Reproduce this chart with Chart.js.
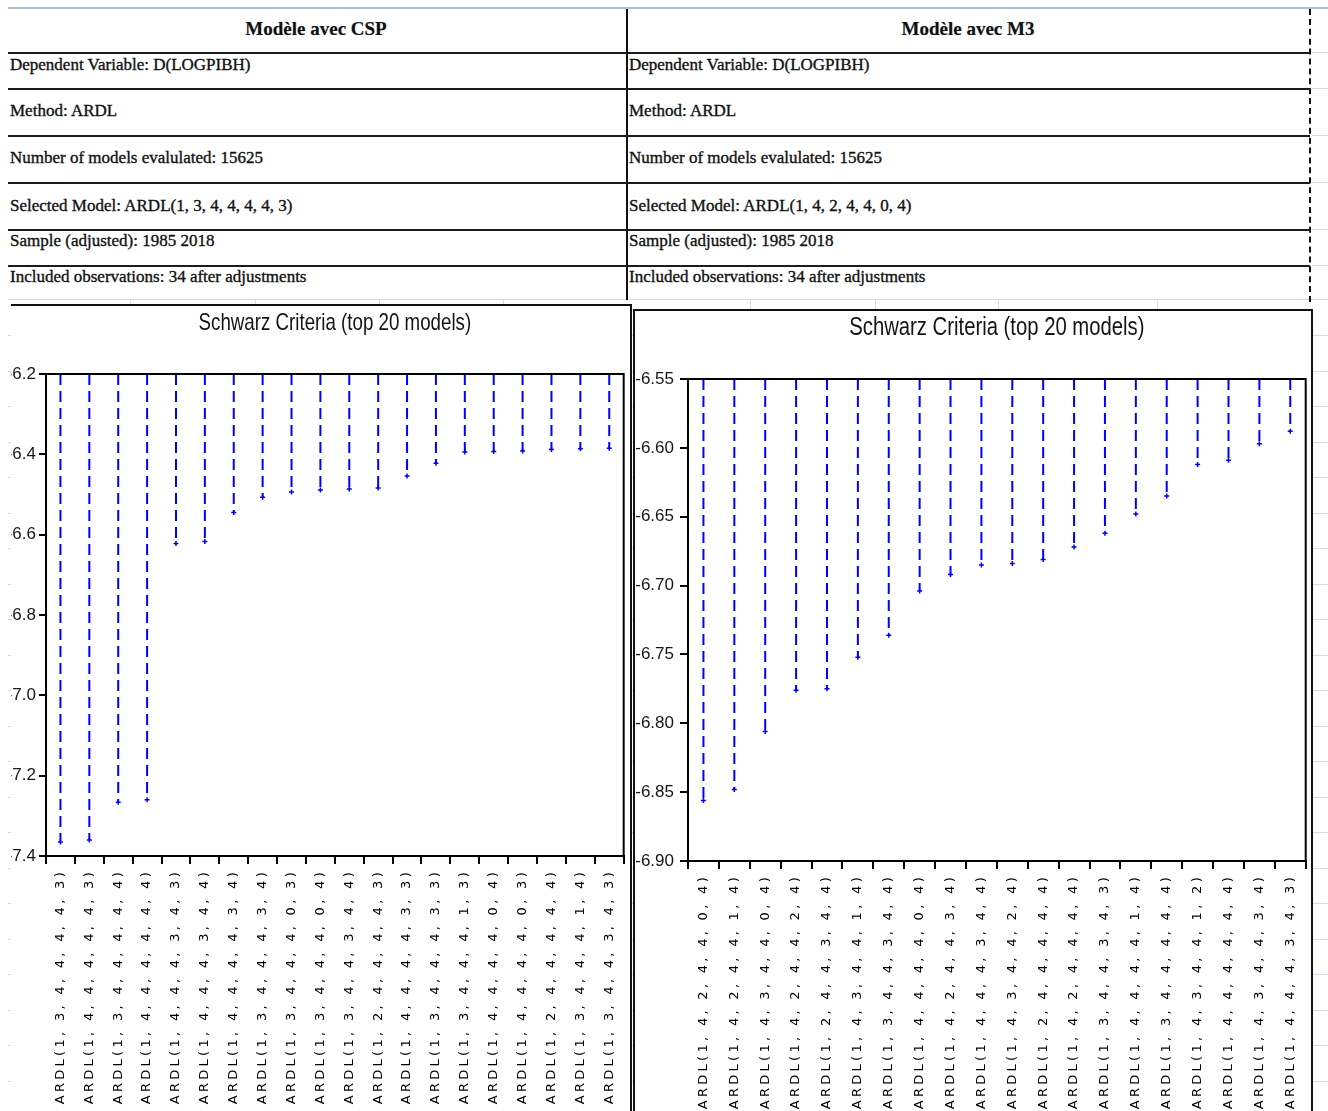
<!DOCTYPE html>
<html>
<head>
<meta charset="utf-8">
<script src="https://cdn.jsdelivr.net/npm/chart.js@4/dist/chart.umd.min.js"></script>
<style>
  html, body { margin: 0; padding: 0; background: #fff; width: 1328px; height: 1111px; overflow: hidden; }
  body { position: relative; }
  .grid-h { position: absolute; height: 1px; background: #d6dbe4; }
  .grid-v { position: absolute; width: 1px; background: #d6dbe4; }
  .rule { position: absolute; left: 8px; width: 1302px; height: 2px; background: #1c1c1c; }
  .cell { position: absolute; font-family: 'Liberation Serif', 'DejaVu Serif', serif; font-size: 17px;
          line-height: 18px; color: #111; white-space: nowrap; -webkit-text-stroke: 0.35px #111; }
  .head { font-weight: bold; font-size: 19px; line-height: 20px; transform: translateX(-50%); -webkit-text-stroke: 0.2px #111; }
  .frame { position: absolute; box-sizing: border-box; overflow: hidden; background: #fff; }
  canvas { position: absolute; }
</style>
</head>
<body>
<div id="sheet"></div>

<!-- regression summary table -->
<div class="grid-h" style="left:8px;top:7px;width:1320px;height:2px;background:#aebbd0"></div>
<div style="position:absolute;left:626px;top:9px;width:2px;height:291px;background:#111"></div>
<div style="position:absolute;left:1309px;top:9px;width:0;height:293px;border-left:2px dashed #111"></div>
<div class="rule" style="top:52px"></div>
<div class="rule" style="top:88px"></div>
<div class="rule" style="top:135px"></div>
<div class="rule" style="top:182px"></div>
<div class="rule" style="top:229px"></div>
<div class="rule" style="top:265px"></div>

<div class="cell head" style="left:316px;top:19px">Modèle avec CSP</div>
<div class="cell head" style="left:968px;top:19px">Modèle avec M3</div>

<div class="cell" style="left:10px;top:56px">Dependent Variable: D(LOGPIBH)</div>
<div class="cell" style="left:10px;top:102px">Method: ARDL</div>
<div class="cell" style="left:10px;top:149px">Number of models evalulated: 15625</div>
<div class="cell" style="left:10px;top:197px">Selected Model: ARDL(1, 3, 4, 4, 4, 4, 3)</div>
<div class="cell" style="left:10px;top:232px">Sample (adjusted): 1985 2018</div>
<div class="cell" style="left:10px;top:268px">Included observations: 34 after adjustments</div>

<div class="cell" style="left:629px;top:56px">Dependent Variable: D(LOGPIBH)</div>
<div class="cell" style="left:629px;top:102px">Method: ARDL</div>
<div class="cell" style="left:629px;top:149px">Number of models evalulated: 15625</div>
<div class="cell" style="left:629px;top:197px">Selected Model: ARDL(1, 4, 2, 4, 4, 0, 4)</div>
<div class="cell" style="left:629px;top:232px">Sample (adjusted): 1985 2018</div>
<div class="cell" style="left:629px;top:268px">Included observations: 34 after adjustments</div>

<!-- Schwarz criteria graphs -->
<div class="frame" style="left:11px;top:304px;width:621px;height:900px;border-top:2px solid #111;border-right:2px solid #111;">
  <canvas id="cspChart" width="642" height="810" style="left:-23px;top:0"></canvas>
</div>
<div class="frame" style="left:633px;top:309px;width:680px;height:900px;border:2px solid #111;">
  <canvas id="m3Chart" width="676" height="810" style="left:0;top:0"></canvas>
</div>

<script>
// ---- data ---------------------------------------------------------------
const chartTitle = 'Schwarz Criteria (top 20 models)';

const cspModels = [
  'ARDL(1, 3, 4, 4, 4, 4, 3)', 'ARDL(1, 4, 4, 4, 4, 4, 3)', 'ARDL(1, 3, 4, 4, 4, 4, 4)', 'ARDL(1, 4, 4, 4, 4, 4, 4)',
  'ARDL(1, 4, 4, 4, 3, 4, 3)', 'ARDL(1, 4, 4, 4, 3, 4, 4)', 'ARDL(1, 4, 4, 4, 4, 3, 4)', 'ARDL(1, 3, 4, 4, 4, 3, 4)',
  'ARDL(1, 3, 4, 4, 4, 0, 3)', 'ARDL(1, 3, 4, 4, 4, 0, 4)', 'ARDL(1, 3, 4, 4, 3, 4, 4)', 'ARDL(1, 2, 4, 4, 4, 4, 3)',
  'ARDL(1, 4, 4, 4, 4, 3, 3)', 'ARDL(1, 3, 4, 4, 4, 3, 3)', 'ARDL(1, 3, 4, 4, 4, 1, 3)', 'ARDL(1, 4, 4, 4, 4, 0, 4)',
  'ARDL(1, 4, 4, 4, 4, 0, 3)', 'ARDL(1, 2, 4, 4, 4, 4, 4)', 'ARDL(1, 3, 4, 4, 4, 1, 4)', 'ARDL(1, 3, 4, 4, 3, 4, 3)'
];
const cspSchwarz = [
  -7.365, -7.360, -7.266, -7.260, -6.622, -6.617, -6.545, -6.507, -6.494, -6.489,
  -6.486, -6.484, -6.454, -6.422, -6.394, -6.393, -6.392, -6.388, -6.386, -6.385
];
const cspAxisTicks = [-6.2, -6.4, -6.6, -6.8, -7.0, -7.2, -7.4];

const m3Models = [
  'ARDL(1, 4, 2, 4, 4, 0, 4)', 'ARDL(1, 4, 2, 4, 4, 1, 4)', 'ARDL(1, 4, 3, 4, 4, 0, 4)', 'ARDL(1, 4, 2, 4, 4, 2, 4)',
  'ARDL(1, 2, 4, 4, 3, 4, 4)', 'ARDL(1, 4, 3, 4, 4, 1, 4)', 'ARDL(1, 3, 4, 4, 3, 4, 4)', 'ARDL(1, 4, 4, 4, 4, 0, 4)',
  'ARDL(1, 4, 2, 4, 4, 3, 4)', 'ARDL(1, 4, 4, 4, 3, 4, 4)', 'ARDL(1, 4, 3, 4, 4, 2, 4)', 'ARDL(1, 2, 4, 4, 4, 4, 4)',
  'ARDL(1, 4, 2, 4, 4, 4, 4)', 'ARDL(1, 3, 4, 4, 3, 4, 3)', 'ARDL(1, 4, 4, 4, 4, 1, 4)', 'ARDL(1, 3, 4, 4, 4, 4, 4)',
  'ARDL(1, 4, 3, 4, 4, 1, 2)', 'ARDL(1, 4, 4, 4, 4, 4, 4)', 'ARDL(1, 4, 3, 4, 4, 3, 4)', 'ARDL(1, 4, 4, 4, 3, 4, 3)'
];
const m3Schwarz = [
  -6.856, -6.848, -6.806, -6.776, -6.775, -6.752, -6.736, -6.704, -6.692, -6.685,
  -6.684, -6.681, -6.672, -6.662, -6.648, -6.635, -6.612, -6.609, -6.597, -6.588
];
const m3AxisTicks = [-6.55, -6.60, -6.65, -6.70, -6.75, -6.80, -6.85, -6.90];

// ---- spreadsheet gridlines behind the content ----------------------------
(function () {
  const sheet = document.getElementById('sheet');
  const add = (cls, css) => { const d = document.createElement('div'); d.className = cls; d.style.cssText = css; sheet.appendChild(d); };
  [52, 88, 135, 182, 229, 265].forEach(y => add('grid-h', `left:1312px;top:${y}px;width:16px;`));
  add('grid-h', 'left:8px;top:299px;width:1320px;');
  for (let y = 335; y < 1111; y += 35.5) add('grid-h', `left:8px;top:${Math.round(y)}px;width:1320px;`);
  [130, 255, 379, 503, 750, 875, 998, 1157].forEach(x => add('grid-v', `left:${x}px;top:300px;height:12px;`));
})();

// ---- category axis whose labels are drawn letter-spaced ------------------
const LABEL_SPACING = '3.3px';
class SpacedCategoryScale extends Chart.CategoryScale {
  drawLabels(area) {
    const ctx = this.ctx;
    ctx.save();
    ctx.letterSpacing = LABEL_SPACING;
    super.drawLabels(area);
    ctx.restore();
  }
}
SpacedCategoryScale.id = 'spacedCategory';
SpacedCategoryScale.defaults = Chart.CategoryScale.defaults;
Chart.register(SpacedCategoryScale);

// box around the plotting area
const plotFrame = {
  id: 'plotFrame',
  afterDatasetsDraw(chart) {
    const { ctx, chartArea: a } = chart;
    ctx.save();
    ctx.strokeStyle = '#000';
    ctx.lineWidth = 2;
    ctx.strokeRect(a.left, a.top, a.right - a.left, a.bottom - a.top);
    ctx.restore();
  }
};

// the graph title is set in a condensed sans face: squeeze it horizontally about its centre
const TITLE_SQUEEZE = 0.78;
const narrowTitle = {
  id: 'narrowTitle',
  beforeDraw(chart) {
    const tb = chart.titleBlock;
    if (!tb || tb._narrow) return;
    const draw = tb.draw.bind(tb);
    tb.draw = function () {
      const ctx = chart.ctx;
      const cx = (this.left + this.right) / 2;
      ctx.save();
      ctx.translate(cx, 0);
      ctx.scale(TITLE_SQUEEZE, 1);
      ctx.translate(-cx, 0);
      draw();
      ctx.restore();
    };
    tb._narrow = true;
  }
};

// one dashed drop line per model, from the top of the axis down to its criterion
function dropLines(models, values, top) {
  const pts = [];
  values.forEach((v, i) => {
    pts.push({ x: models[i], y: top }, { x: models[i], y: v }, { x: models[i], y: null });
  });
  return pts;
}

function criteriaChart(id, models, values, axisTicks, opts) {
  const top = Math.max(...axisTicks);
  const bottom = Math.min(...axisTicks);
  return new Chart(document.getElementById(id), {
    type: 'line',
    data: {
      labels: models,
      datasets: [{
        data: dropLines(models, values, top),
        borderColor: '#0000ff',
        borderWidth: 2,
        borderDash: [11, 6],
        spanGaps: false,
        tension: 0,
        fill: false,
        pointStyle: 'cross',
        pointBorderColor: '#0000ff',
        pointBorderWidth: 1.5,
        pointRadius: c => (c.raw && c.raw.y !== null && c.raw.y !== top) ? 2.5 : 0
      }]
    },
    options: {
      responsive: false,
      animation: false,
      devicePixelRatio: 1,
      events: [],
      layout: { padding: { left: 0, right: 4, top: 0, bottom: 0 } },
      plugins: {
        legend: { display: false },
        tooltip: { enabled: false },
        title: {
          display: true,
          text: chartTitle,
          fullSize: false,
          color: '#141414',
          font: { family: "'Liberation Sans', Arial, sans-serif", size: opts.titleSize, weight: 'normal', lineHeight: 1.2 },
          padding: opts.titlePadding
        }
      },
      scales: {
        x: {
          type: 'spacedCategory',
          offset: true,
          grid: { offset: true, drawOnChartArea: false, drawTicks: true, tickLength: 8, color: '#000', lineWidth: 2 },
          border: { display: true, color: '#000', width: 2 },
          ticks: {
            autoSkip: false, minRotation: 90, maxRotation: 90, padding: 5, color: '#000',
            font: { family: "'DejaVu Sans', sans-serif", size: 13 }
          },
          afterFit: s => { s.height = 260; }
        },
        y: {
          min: bottom,
          max: top,
          afterBuildTicks: s => { s.ticks = axisTicks.map(v => ({ value: v })); },
          grid: { drawOnChartArea: false, drawTicks: true, tickLength: opts.tickLength, color: '#000', lineWidth: 2 },
          border: { display: true, color: '#000', width: 2 },
          ticks: {
            padding: opts.labelPad, color: '#161616',
            font: { family: "'Liberation Sans', Arial, sans-serif", size: opts.labelSize },
            callback: v => Number(v).toFixed(opts.decimals)
          },
          afterFit: s => { s.width = opts.axisWidth; }
        }
      }
    },
    plugins: [narrowTitle, plotFrame]
  });
}

criteriaChart('cspChart', cspModels, cspSchwarz, cspAxisTicks, {
  titleSize: 24, titlePadding: { top: 2.8, bottom: 36.4 },
  axisWidth: 58, tickLength: 7, labelPad: 3, labelSize: 17, decimals: 1
});
criteriaChart('m3Chart', m3Models, m3Schwarz, m3AxisTicks, {
  titleSize: 26, titlePadding: { top: 1.4, bottom: 35.4 },
  axisWidth: 53, tickLength: 8, labelPad: 6, labelSize: 17, decimals: 2
});
</script>
</body>
</html>
